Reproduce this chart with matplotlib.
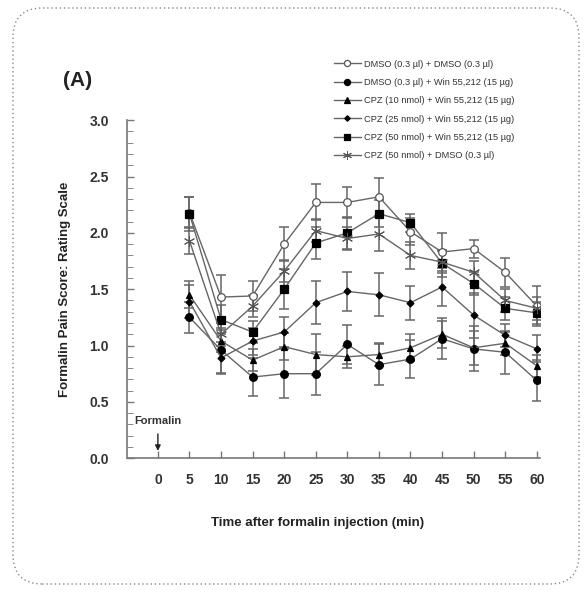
import numpy as np
import matplotlib
matplotlib.use("Agg")
from matplotlib import pyplot as plt
from matplotlib.patches import FancyBboxPatch

plt.rcParams['font.family'] = ['Liberation Sans', 'DejaVu Sans']

time = [5, 10, 15, 20, 25, 30, 35, 40, 45, 50, 55, 60]
xticks = [0, 5, 10, 15, 20, 25, 30, 35, 40, 45, 50, 55, 60]

labels = ["DMSO (0.3 \u00b5l) + DMSO (0.3 \u00b5l)",
          "DMSO (0.3 \u00b5l) + Win 55,212 (15 \u00b5g)",
          "CPZ (10 nmol) + Win 55,212 (15 \u00b5g)",
          "CPZ (25 nmol) + Win 55,212 (15 \u00b5g)",
          "CPZ (50 nmol) + Win 55,212 (15 \u00b5g)",
          "CPZ (50 nmol) + DMSO (0.3 \u00b5l)"]

dmso_dmso = [2.18, 1.43, 1.44, 1.90, 2.27, 2.27, 2.32, 2.01, 1.83, 1.86, 1.65, 1.35]
dmso_win = [1.25, 0.96, 0.72, 0.75, 0.75, 1.01, 0.83, 0.88, 1.06, 0.97, 0.94, 0.69]
cpz10_win = [1.45, 1.04, 0.87, 0.99, 0.92, 0.90, 0.92, 0.98, 1.10, 0.98, 1.02, 0.82]
cpz25_win = [1.39, 0.89, 1.04, 1.12, 1.38, 1.48, 1.45, 1.38, 1.52, 1.27, 1.09, 0.97]
cpz50_win = [2.17, 1.23, 1.12, 1.50, 1.91, 2.00, 2.17, 2.09, 1.73, 1.55, 1.33, 1.29]
cpz50_dmso = [1.93, 1.10, 1.35, 1.66, 2.02, 1.95, 1.99, 1.80, 1.74, 1.65, 1.40, 1.33]

err_dmso_dmso = [0.14, 0.20, 0.13, 0.15, 0.16, 0.14, 0.17, 0.12, 0.17, 0.08, 0.13, 0.18]
err_dmso_win = [0.14, 0.20, 0.17, 0.22, 0.19, 0.17, 0.18, 0.17, 0.18, 0.20, 0.19, 0.18]
err_cpz10_win = [0.12, 0.10, 0.10, 0.12, 0.18, 0.10, 0.10, 0.12, 0.12, 0.15, 0.10, 0.10]
err_cpz25_win = [0.15, 0.14, 0.12, 0.13, 0.19, 0.17, 0.19, 0.15, 0.17, 0.20, 0.10, 0.12]
err_cpz50_win = [0.15, 0.13, 0.10, 0.18, 0.14, 0.14, 0.12, 0.08, 0.12, 0.10, 0.10, 0.10]
err_cpz50_dmso = [0.12, 0.10, 0.10, 0.10, 0.10, 0.10, 0.15, 0.12, 0.10, 0.10, 0.10, 0.10]

series = [dmso_dmso, dmso_win, cpz10_win, cpz25_win, cpz50_win, cpz50_dmso]
errors = [err_dmso_dmso, err_dmso_win, err_cpz10_win, err_cpz25_win, err_cpz50_win, err_cpz50_dmso]
markers = ["o", "o", "^", "D", "s", (6, 2, 0)]
sizes = [5.5, 5.5, 5, 3.5, 5.8, 8]
faces = ["white", "black", "black", "black", "black", "black"]
edges = ["#555555", "black", "black", "black", "black", "#555555"]
edgew = [0.9, 0.9, 0.9, 0.9, 0.9, 0.7]

fig = plt.figure(figsize=(5.85, 5.92), dpi=100)
ax = fig.add_axes([0.217, 0.226, 0.706, 0.571])

lc = "#666666"
handles = []
for y, e, m, s, f, ec, mw, lab in zip(series, errors, markers, sizes, faces, edges, edgew, labels):
    ax.errorbar(time, y, yerr=e, fmt="none", ecolor=lc, elinewidth=1.1, capsize=3.5, capthick=1.1, zorder=1)
    h, = ax.plot(time, y, color=lc, lw=1, marker=m, ms=s, mfc=f, mec=ec, mew=mw, zorder=3, label=lab)
    handles.append(h)

ax.set_xlim(-4.9, 60.5)
ax.set_ylim(0, 3.0)
ax.set_xticks(xticks)
ax.set_yticks(np.arange(0, 3.01, 0.5))
ax.set_yticks(np.arange(0, 3.01, 0.1), minor=True)
ax.tick_params(axis="both", direction="in", colors="#777777", labelcolor="#333333", length=5, width=1)
ax.tick_params(axis="y", which="minor", direction="in", length=4, colors="#777777")
ax.tick_params(axis="y", pad=13)
ax.tick_params(axis="x", pad=11)
for lab in ax.get_xticklabels() + ax.get_yticklabels():
    lab.set_fontweight("bold")
    lab.set_fontsize(10)
ax.spines["top"].set_visible(False)
ax.spines["right"].set_visible(False)
ax.spines["left"].set_color("#777777")
ax.spines["bottom"].set_color("#777777")
ax.spines["left"].set_linewidth(1.2)
ax.spines["bottom"].set_linewidth(1.2)

ax.annotate("", xy=(0, 0.04), xytext=(0, 0.24),
            arrowprops=dict(arrowstyle="-|>", color="#222222", lw=1, mutation_scale=8))
ax.text(0, 0.29, "Formalin", ha="center", va="bottom", fontsize=8, fontweight="bold", color="#333333")

fig.text(65 / 585, 1 - 289 / 592, "Formalin Pain Score: Rating Scale", rotation=90, ha="center", va="center",
         fontsize=9.5, fontweight="bold", color="#222222")
fig.text(318 / 585, 1 - 523 / 592, "Time after formalin injection (min)", ha="center", va="center",
         fontsize=9.5, fontweight="bold", color="#222222")
fig.text(63 / 585, 1 - 80 / 592, "(A)", ha="left", va="center", fontsize=15, fontweight="bold", color="#222222")

fig.legend(handles=handles, loc="upper left", bbox_to_anchor=(330 / 585, 1 - 56 / 592), frameon=False,
           fontsize=6.7, handlelength=2.9, handletextpad=0.3, labelspacing=1.0, borderaxespad=0,
           markerscale=0.8, labelcolor="#333333")

border = FancyBboxPatch((13 / 585, 8 / 592), 566 / 585, 576 / 592, boxstyle="round,pad=0,rounding_size=0.05",
                        transform=fig.transFigure, fill=False, ec="#888888", lw=1, ls=(0, (1, 2)))
fig.patches.append(border)

fig.savefig("out.png", dpi=100)
